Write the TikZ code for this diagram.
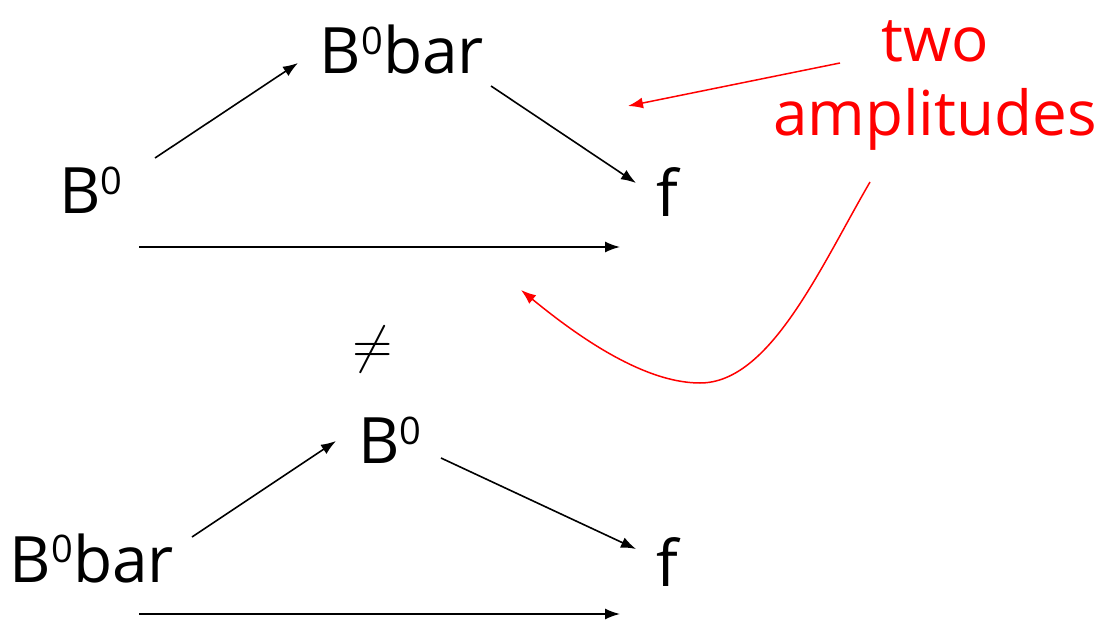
\documentclass[tikz,border=0pt]{standalone}
\usepackage{fontspec}
\usepackage{graphicx}
\setmainfont{Open Sans}
\usetikzlibrary{arrows.meta}
\tikzset{
  lbl/.style={inner sep=0pt, font=\fontsize{64}{76}\selectfont},
  redlbl/.style={inner sep=0pt, text=red, align=center, font=\fontsize{62}{74}\selectfont},
  conn/.style={line width=1.6pt, -{Latex[length=15pt,width=11pt]}},
  redconn/.style={red, line width=1.5pt, -{Latex[length=15pt,width=11pt]}}
}
\newcommand{\zsup}{\raisebox{0.3em}{\fontsize{38}{44}\selectfont 0}}
\begin{document}
\begin{tikzpicture}[x=1pt,y=-1pt]
\useasboundingbox (0,0) rectangle (1108,623);
% top diagram
\node[lbl] (b0a) at (91,190) {B\zsup};
\node[lbl] (bbara) at (402,50) {B\zsup bar};
\node[lbl] (fa) at (667,192) {f};
\coordinate (a1s) at (155,158); \coordinate (a1e) at (298,63);
\coordinate (a2s) at (491,86);  \coordinate (a2e) at (636,183);
\coordinate (a3s) at (139,247); \coordinate (a3e) at (620,247);
\draw[conn] (a1s) -- (a1e);
\draw[conn] (a2s) -- (a2e);
\draw[conn] (a3s) -- (a3e);
% not equal
\node[inner sep=0pt] (neq) at (373,349) {\scalebox{5.2}{$\neq$}};
% bottom diagram
\node[lbl] (bbarb) at (92,558) {B\zsup bar};
\node[lbl] (b0b) at (390,440) {B\zsup};
\node[lbl] (fb) at (667,562) {f};
\coordinate (b1s) at (192,537); \coordinate (b1e) at (336,441);
\coordinate (b2s) at (441,458); \coordinate (b2e) at (636,549);
\coordinate (b3s) at (139,614); \coordinate (b3e) at (620,614);
\draw[conn] (b1s) -- (b1e);
\draw[conn] (b2s) -- (b2e);
\draw[conn] (b3s) -- (b3e);
% red annotation
\node[redlbl] (amp) at (935,86) {two\\amplitudes};
\coordinate (r1s) at (840,63); \coordinate (r1e) at (628,106);
\coordinate (r2s) at (870,182); \coordinate (r2e) at (521,290);
\draw[redconn] (r1s) -- (r1e);
\draw[redconn] (r2s) .. controls (820,268) and (770,383) .. (700,383)
  .. controls (640,383) and (570,330) .. (r2e);
\end{tikzpicture}
\end{document}
